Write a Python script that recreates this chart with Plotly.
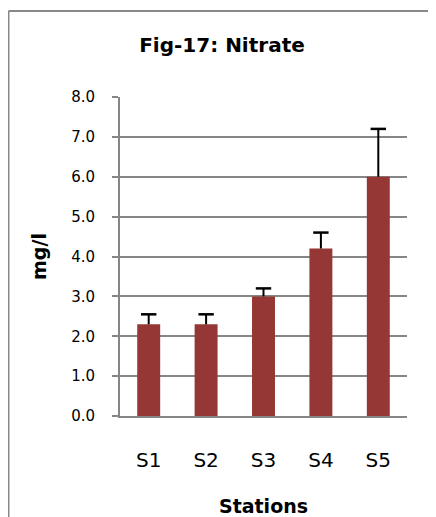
import plotly.graph_objects as go

stations = ["S1", "S2", "S3", "S4", "S5"]
nitrate = [2.3, 2.3, 3.0, 4.2, 6.0]
err_plus = [0.25, 0.25, 0.2, 0.4, 1.2]
y_ticks = [0, 1, 2, 3, 4, 5, 6, 7, 8]

FONT = "DejaVu Sans, sans-serif"
GRID = "#868686"

# page body has an 8px margin
W, H = 428, 509
L, R, T, B = 112, 29, 89, 101

fig = go.Figure()
fig.add_trace(go.Bar(
    x=stations, y=nitrate, width=0.4,
    marker=dict(color="#953735", line=dict(width=0)),
    error_y=dict(type="data", array=err_plus, symmetric=False, arrayminus=[0] * len(err_plus),
                 color="black", thickness=2, width=0),
))
fig.add_trace(go.Scatter(
    x=stations, y=[v + e for v, e in zip(nitrate, err_plus)], mode="markers",
    marker=dict(symbol="line-ew", size=11, color="black", line=dict(width=2.5, color="black")),
    hoverinfo="skip",
))

pw = W - L - R
ph = H - T - B
bx = (0.5 - L) / pw
by = 1 + (T - 3) / ph
fig.add_shape(type="line", xref="paper", yref="paper",
              x0=bx, x1=bx, y0=-B / ph - 0.05, y1=by,
              line=dict(color="#888888", width=2))
fig.add_shape(type="line", xref="paper", yref="paper",
              x0=bx, x1=1 + R / pw + 0.05, y0=by, y1=by,
              line=dict(color="#888888", width=2))

fig.update_layout(
    width=W, height=H,
    margin=dict(l=L, r=R, t=T, b=B, pad=0, autoexpand=False),
    paper_bgcolor="white", plot_bgcolor="white",
    showlegend=False,
    font=dict(family=FONT, color="black", size=15),
    title=dict(text="<b>Fig-17: Nitrate</b>", x=214 / W, xanchor="center",
               y=1 - 37 / H, yanchor="middle", font=dict(size=20, family=FONT)),
)
fig.update_yaxes(
    automargin=False,
    range=[0, 8], tickvals=y_ticks, tickformat=".1f",
    showgrid=True, gridcolor=GRID, gridwidth=2,
    showline=True, linecolor=GRID, linewidth=2,
    ticks="outside", ticklen=6, tickcolor=GRID, tickwidth=2,
    ticklabelstandoff=14, zeroline=False,
    title=dict(text="<b>mg/l</b>", standoff=19, font=dict(size=19)),
    tickfont=dict(size=15),
)
fig.update_xaxes(
    automargin=False,
    showline=True, linecolor=GRID, linewidth=2, ticks="",
    ticklabelstandoff=25, tickfont=dict(size=20),
    title=dict(text="<b>Stations</b>", standoff=35, font=dict(size=19)),
)

fig.write_html("out.html")
